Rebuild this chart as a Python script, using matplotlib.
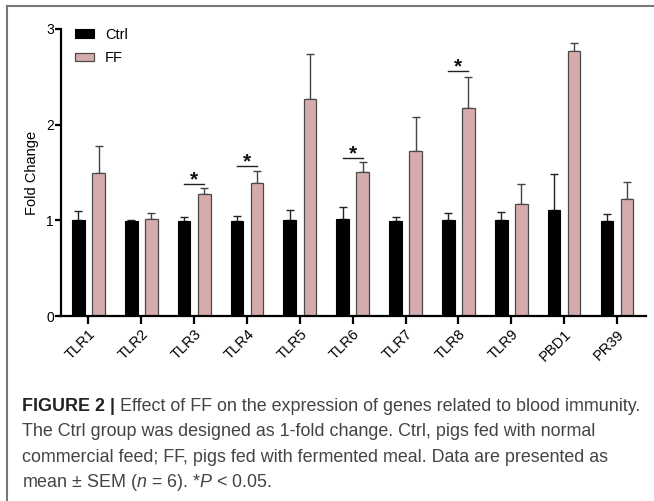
import numpy as np
import matplotlib
matplotlib.use("Agg")
import matplotlib.pyplot as plt
from matplotlib.lines import Line2D

plt.rcParams['font.family'] = ['Liberation Sans', 'DejaVu Sans']
plt.rcParams['mathtext.fontset'] = 'custom'
plt.rcParams['mathtext.rm'] = 'Liberation Sans'
plt.rcParams['mathtext.it'] = 'Liberation Sans:italic'

# valores
genes = ['TLR1', 'TLR2', 'TLR3', 'TLR4', 'TLR5', 'TLR6', 'TLR7', 'TLR8', 'TLR9', 'PBD1', 'PR39']
ctrl_mean = [1.00, 0.99, 0.99, 0.99, 1.00, 1.01, 0.99, 1.00, 1.00, 1.11, 0.99]
ctrl_sem = [0.10, 0.01, 0.04, 0.06, 0.11, 0.13, 0.05, 0.08, 0.09, 0.37, 0.08]
ff_mean = [1.50, 1.01, 1.28, 1.39, 2.27, 1.51, 1.72, 2.17, 1.17, 2.77, 1.22]
ff_sem = [0.28, 0.07, 0.06, 0.13, 0.47, 0.10, 0.36, 0.33, 0.21, 0.08, 0.18]
# asteriscos (índice do gene, altura da barra horizontal)
sig_genes = [2, 3, 5, 7]
sig_height = [1.38, 1.57, 1.655, 2.56]

W, H = 654, 501
fig = plt.figure(figsize=(W/100, H/100), dpi=100)
ax = fig.add_axes([61/W, 1 - 316/H, 585/W, 287/H])

x = np.arange(len(genes))
off = 0.19
bw = 0.24
ax.bar(x - off, ctrl_mean, bw, color='black', edgecolor='black', linewidth=0.8,
       label='Ctrl', zorder=2)
ax.bar(x + off, ff_mean, bw, color='#d6abab', edgecolor='#4a4a4a', linewidth=0.9,
       label='FF', zorder=2)
ax.errorbar(x - off, ctrl_mean, yerr=[np.zeros(len(x)), ctrl_sem], fmt='none',
            ecolor='#222222', elinewidth=1.0, capsize=3, capthick=1.0, zorder=1)
ax.errorbar(x + off, ff_mean, yerr=[np.zeros(len(x)), ff_sem], fmt='none',
            ecolor='#444444', elinewidth=1.0, capsize=3, capthick=1.0, zorder=1)

for g, h in zip(sig_genes, sig_height):
  ax.plot([g - off, g + off], [h, h], color='#222222', linewidth=1.0)
  ax.text(g, h - 0.015, '*', ha='center', va='baseline', fontsize=15,
          fontweight='bold', color='#111111')

ax.set_xlim(-0.52, 10.55)
ax.set_ylim(0, 3)
ax.set_yticks([0, 1, 2, 3])
ax.set_xticks(x)
ax.set_xticklabels(genes, rotation=45, ha='right', rotation_mode='anchor')
for s in ['top', 'right']:
  ax.spines[s].set_visible(False)
ax.spines['left'].set_linewidth(1.6)
ax.spines['bottom'].set_linewidth(1.6)
ax.tick_params(axis='y', length=4, width=1.6, labelsize=10, pad=1)
ax.tick_params(axis='x', length=6, width=1.6, labelsize=10.5, pad=2)
ax.set_ylabel('Fold Change', fontsize=10.5, labelpad=5)

ax.legend(loc='upper left', bbox_to_anchor=(0.012, 1.03), frameon=False,
          fontsize=10.5, handlelength=1.3, handleheight=0.5, handletextpad=0.75,
          labelspacing=0.65, borderpad=0)

# moldura (linhas de cima e da esquerda)
fig.add_artist(Line2D([7/W, 7/W], [0, 1 - 6/H], color='#777777', linewidth=1.5))
fig.add_artist(Line2D([7/W, 1], [1 - 6/H, 1 - 6/H], color='#777777', linewidth=1.5))

# legenda da figura
fs = 12.9
cap_x = 22.5/W
bold = fig.text(cap_x, 1 - 411/H, 'FIGURE 2 |', fontsize=fs, fontweight='bold',
                color='#222222', va='baseline')
r = fig.canvas.get_renderer()
bb = bold.get_window_extent(renderer=r)
fig.text(bb.x1/W + 4/W, 1 - 411/H,
         'Effect of FF on the expression of genes related to blood immunity.',
         fontsize=fs, color='#444444', va='baseline')
lines = ['The Ctrl group was designed as 1-fold change. Ctrl, pigs fed with normal',
         'commercial feed; FF, pigs fed with fermented meal. Data are presented as',
         r'mean $\pm$ SEM ($n$ = 6). *$P$ < 0.05.']
for i, t in enumerate(lines):
  fig.text(cap_x, 1 - (436.3 + 25.3*i)/H, t, fontsize=fs, color='#444444', va='baseline')

fig.savefig('out.png', dpi=100)
